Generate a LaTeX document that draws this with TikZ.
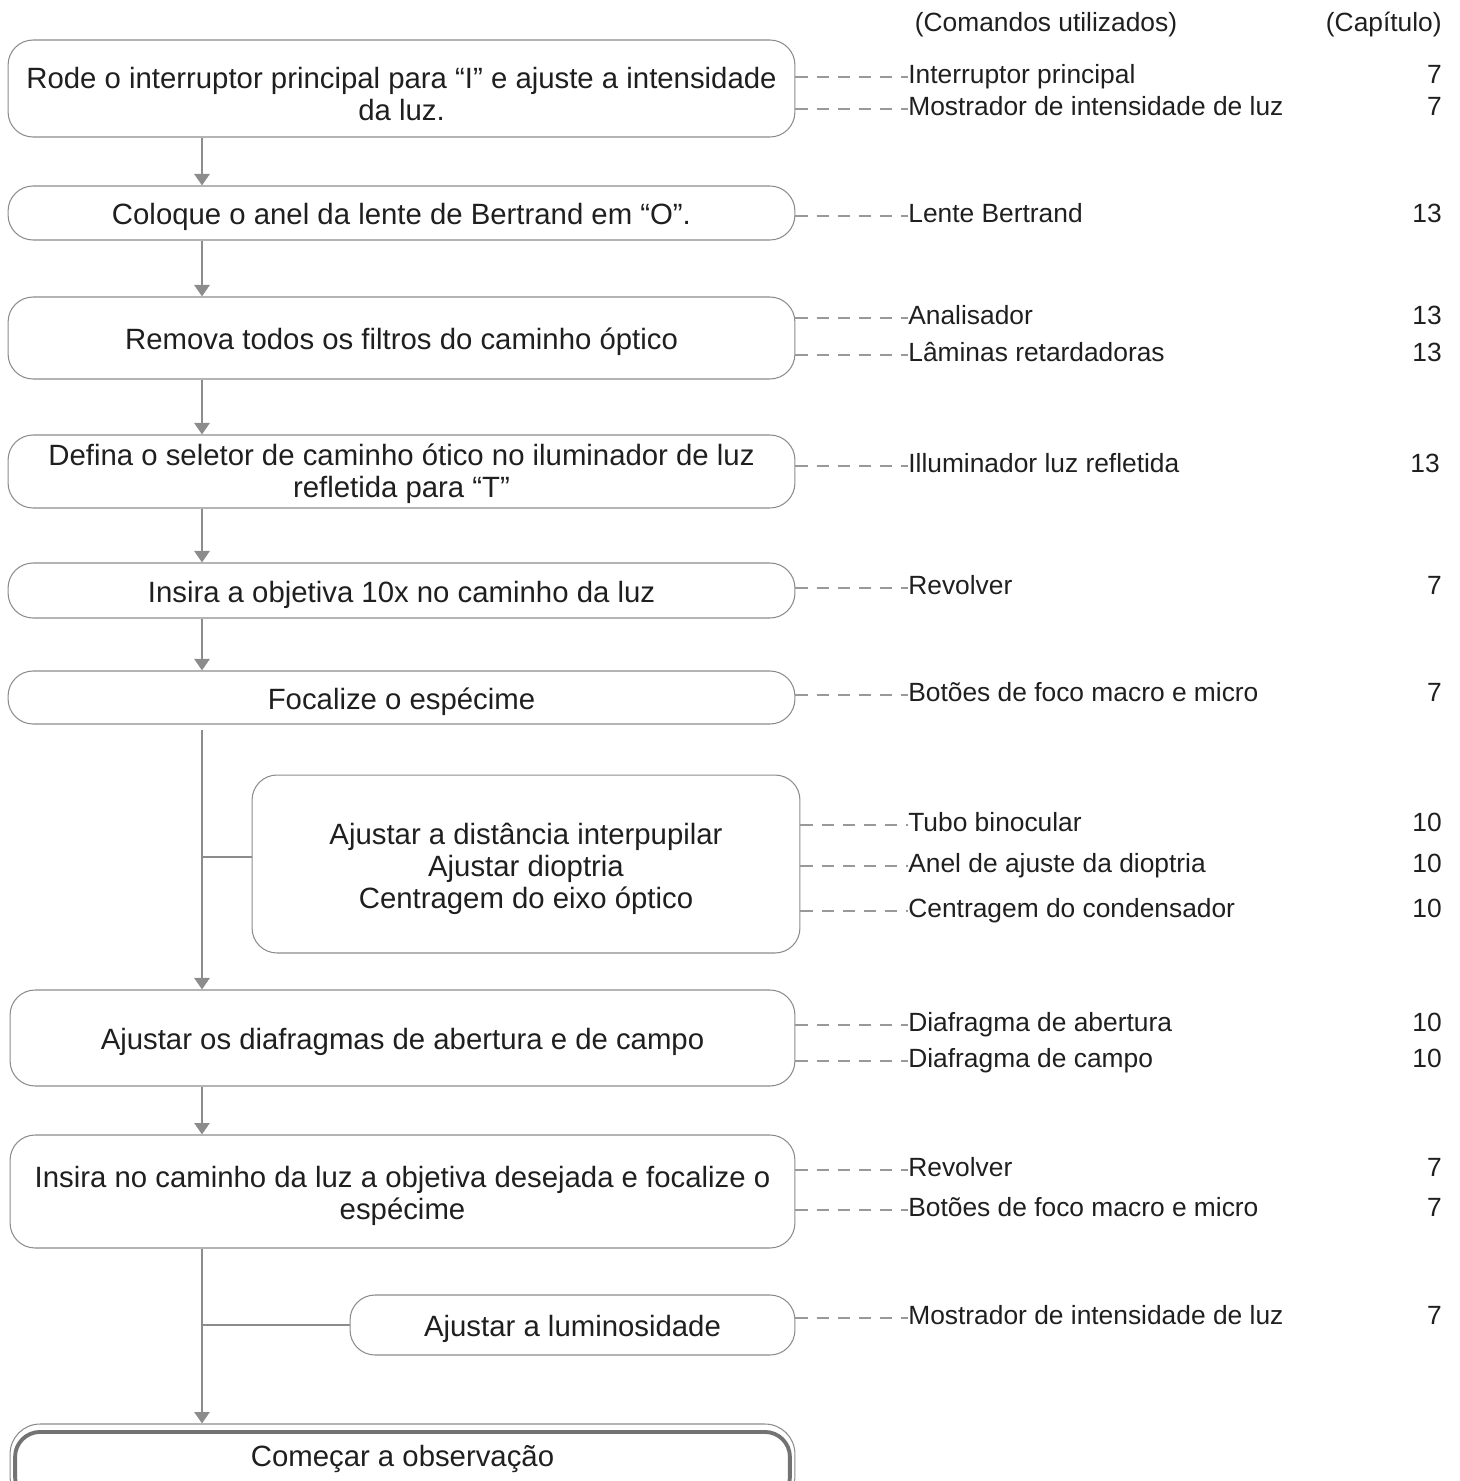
\documentclass[tikz,border=0pt]{standalone}
\usepackage{fontspec}
\setmainfont{Liberation Sans}
\usetikzlibrary{arrows.meta}
\newcommand{\lifted}[1]{\rule{0pt}{#1}}

\begin{document}
\begin{tikzpicture}[x=0.02cm,y=-0.02cm,font=\fontsize{15pt}{17.8pt}\selectfont,text=black!88,
  stepbox/.style={draw=black!45,line width=0.6pt,rounded corners=0.5cm,minimum width=15.74cm,align=center,inner sep=0pt,
    font=\fontsize{16.7pt}{18.2pt}\selectfont,execute at begin node={\rule{0pt}{1em}}},
  flow/.style={draw=black!45,line width=1.5pt,-{Triangle[width=0.3cm,length=0.23cm]}},
  branch/.style={draw=black!45,line width=1.5pt},
  dashlink/.style={draw=black!40,line width=1.3pt,dash pattern=on 7pt off 5pt},
  cmd/.style={anchor=west,inner sep=0pt,text height=0.72em,text depth=0pt},
  chap/.style={anchor=east,inner sep=0pt,text height=0.72em,text depth=0pt}]
\useasboundingbox (0,0) rectangle (1460,1481);
\clip (0,0) rectangle (1460,1481);
\coordinate (spine) at (202,0);
% headers
\node (hcmd) at (1046,25) {(Comandos utilizados)};
\node[anchor=east,inner sep=0pt] (hchap) at (1442,25) {(Capítulo)};
% steps
\node[stepbox,minimum height=1.94cm] (rode) at (401.5,88.5) {\lifted{1.07em}Rode o interruptor principal para “I” e ajuste a intensidade\\da luz.};
\node[stepbox,minimum height=1.08cm] (lente) at (401.5,213) {Coloque o anel da lente de Bertrand em “O”.};
\node[stepbox,minimum height=1.64cm] (filt) at (401.5,338) {Remova todos os filtros do caminho óptico};
\node[stepbox,minimum height=1.46cm] (sel) at (401.5,471.5) {\lifted{0.87em}Defina o seletor de caminho ótico no iluminador de luz\\refletida para “T”};
\node[stepbox,minimum height=1.1cm] (obj) at (401.5,590.5) {Insira a objetiva 10x no caminho da luz};
\node[stepbox,minimum height=1.06cm] (foc) at (401.5,697.5) {Focalize o espécime};
\node[stepbox,minimum width=10.96cm,minimum height=3.56cm] (ajust) at (526,864) {\lifted{1.09em}Ajustar a distância interpupilar\\Ajustar dioptria\\Centragem do eixo óptico};
\node[stepbox,minimum width=15.7cm,minimum height=1.92cm] (diaf) at (402.5,1038) {Ajustar os diafragmas de abertura e de campo};
\node[stepbox,minimum width=15.7cm,minimum height=2.26cm] (insira) at (402.5,1191.5) {\lifted{1em}Insira no caminho da luz a objetiva desejada e focalize o\\espécime};
\node[stepbox,minimum width=8.9cm,minimum height=1.2cm] (lumi) at (572.5,1325) {Ajustar a luminosidade};
\node[draw=black!45,line width=0.6pt,rounded corners=0.6cm,minimum width=15.7cm,minimum height=1.64cm] (obsframe) at (402.5,1465) {};
\node[draw=black!55,line width=2.2pt,rounded corners=0.5cm,minimum width=15.5cm,anchor=north,inner ysep=0pt,
  font=\fontsize{16.7pt}{18.2pt}\selectfont,text height=0.70cm,text depth=0.70cm] (obs) at (402.5,1430) {Começar a observação};
% main flow
\draw[flow] (rode.south -| spine) -- (lente.north -| spine);
\draw[flow] (lente.south -| spine) -- (filt.north -| spine);
\draw[flow] (filt.south -| spine) -- (sel.north -| spine);
\draw[flow] (sel.south -| spine) -- (obj.north -| spine);
\draw[flow] (obj.south -| spine) -- (foc.north -| spine);
\draw[flow,shorten <=0.1cm] (foc.south -| spine) -- (diaf.north -| spine);
\draw[branch] (spine |- 0,857) -- (ajust.west |- 0,857);
\draw[flow] (diaf.south -| spine) -- (insira.north -| spine);
\draw[flow] (insira.south -| spine) -- (obsframe.north -| spine);
\draw[branch] (lumi.west) -- (lumi.west -| spine);
% commands and chapters
\node[cmd] (c1) at (908,77) {Interruptor principal};
\node[chap] (n1) at (1442,77) {7};
\node[cmd] (c2) at (908,109) {Mostrador de intensidade de luz};
\node[chap] (n2) at (1442,109) {7};
\node[cmd] (c3) at (908,216) {Lente Bertrand};
\node[chap] (n3) at (1442,216) {13};
\node[cmd] (c4) at (908,318) {Analisador};
\node[chap] (n4) at (1442,318) {13};
\node[cmd] (c5) at (908,355) {Lâminas retardadoras};
\node[chap] (n5) at (1442,355) {13};
\node[cmd] (c6) at (908,466) {Illuminador luz refletida};
\node[chap] (n6) at (1440,466) {13};
\node[cmd] (c7) at (908,588) {Revolver};
\node[chap] (n7) at (1442,588) {7};
\node[cmd] (c8) at (908,695) {Botões de foco macro e micro};
\node[chap] (n8) at (1442,695) {7};
\node[cmd] (c9) at (908,825) {Tubo binocular};
\node[chap] (n9) at (1442,825) {10};
\node[cmd] (c10) at (908,866) {Anel de ajuste da dioptria};
\node[chap] (n10) at (1442,866) {10};
\node[cmd] (c11) at (908,911) {Centragem do condensador};
\node[chap] (n11) at (1442,911) {10};
\node[cmd] (c12) at (908,1025) {Diafragma de abertura};
\node[chap] (n12) at (1442,1025) {10};
\node[cmd] (c13) at (908,1061) {Diafragma de campo};
\node[chap] (n13) at (1442,1061) {10};
\node[cmd] (c14) at (908,1170) {Revolver};
\node[chap] (n14) at (1442,1170) {7};
\node[cmd] (c15) at (908,1210) {Botões de foco macro e micro};
\node[chap] (n15) at (1442,1210) {7};
\node[cmd] (c16) at (908,1318) {Mostrador de intensidade de luz};
\node[chap] (n16) at (1442,1318) {7};
% dashed links
\draw[dashlink] (rode.east |- c1.west) -- (c1.west);
\draw[dashlink] (rode.east |- c2.west) -- (c2.west);
\draw[dashlink] (lente.east |- c3.west) -- (c3.west);
\draw[dashlink] (filt.east |- c4.west) -- (c4.west);
\draw[dashlink] (filt.east |- c5.west) -- (c5.west);
\draw[dashlink] (sel.east |- c6.west) -- (c6.west);
\draw[dashlink] (obj.east |- c7.west) -- (c7.west);
\draw[dashlink] (foc.east |- c8.west) -- (c8.west);
\draw[dashlink] (ajust.east |- c9.west) -- (c9.west);
\draw[dashlink] (ajust.east |- c10.west) -- (c10.west);
\draw[dashlink] (ajust.east |- c11.west) -- (c11.west);
\draw[dashlink] (diaf.east |- c12.west) -- (c12.west);
\draw[dashlink] (diaf.east |- c13.west) -- (c13.west);
\draw[dashlink] (insira.east |- c14.west) -- (c14.west);
\draw[dashlink] (insira.east |- c15.west) -- (c15.west);
\draw[dashlink] (lumi.east |- c16.west) -- (c16.west);
\end{tikzpicture}
\end{document}
